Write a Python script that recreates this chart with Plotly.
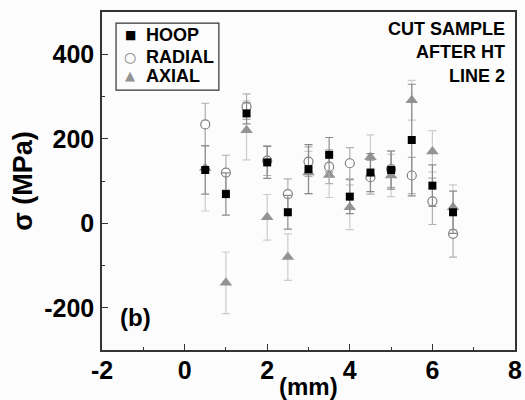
import plotly.graph_objects as go

x_mm = [0.5, 1, 1.5, 2, 2.5, 3, 3.5, 4, 4.5, 5, 5.5, 6, 6.5]
hoop = [126, 69, 260, 144, 26, 128, 162, 63, 120, 126, 197, 89, 26]
hoop_err = [57, 50, 25, 38, 40, 58, 41, 40, 45, 45, 132, 49, 50]
radial = [234, 120, 276, 148, 69, 146, 134, 142, 109, 128, 113, 52, -25]
radial_err = [50, 41, 30, 35, 36, 35, 40, 37, 40, 43, 43, 55, 55]
axial = [131, -141, 220, 14, -80, 120, 114, 38, 156, 113, 291, 170, 38]
axial_err = [102, 73, 70, 54, 55, 50, 53, 53, 53, 50, 47, 49, 53]
series_names = ["HOOP", "RADIAL", "AXIAL"]

FONT = "Liberation Sans, Arial, sans-serif"

fig = go.Figure()
fig.add_trace(go.Scatter(
    x=x_mm, y=axial, mode="markers", name="AXIAL",
    marker=dict(symbol="triangle-up", size=11, color="#939393"),
    error_y=dict(type="data", array=axial_err, color="#cccccc", thickness=1.2, width=4),
))
fig.add_trace(go.Scatter(
    x=x_mm, y=radial, mode="markers", name="RADIAL",
    marker=dict(symbol="circle", size=9, color="white", line=dict(color="#808080", width=1.2)),
    error_y=dict(type="data", array=radial_err, color="#b0b0b0", thickness=1.2, width=4),
))
fig.add_trace(go.Scatter(
    x=x_mm, y=hoop, mode="markers", name="HOOP",
    marker=dict(symbol="square", size=8, color="black"),
    error_y=dict(type="data", array=hoop_err, color="#8a8a8a", thickness=1.2, width=4),
))

axis_common = dict(
    showline=True, linecolor="#333333", linewidth=1.5, mirror=True,
    ticks="inside", ticklen=6, tickwidth=1.2, tickcolor="#333333",
    showgrid=False, zeroline=False, automargin=False,
    tickfont=dict(family=FONT, size=25, color="black", weight="bold"),
    minor=dict(ticks="inside", ticklen=3, tickwidth=1, tickcolor="#333333"),
)

fig.update_xaxes(
    range=[-2, 8], tickvals=[-2, 0, 2, 4, 6, 8], ticktext=["-2", "0", "2", "4", "6", "8"],
    minor_dtick=1, ticklabelstandoff=-3,
    **axis_common,
)
fig.update_yaxes(
    range=[-300, 500], tickvals=[-200, 0, 200, 400], ticktext=["-200", "0", "200", "400"],
    minor_dtick=100, ticklabelstandoff=1,
    title=dict(text="σ (MPa)", font=dict(family=FONT, size=27, color="black", weight="bold"), standoff=4),
    **axis_common,
)

fig.add_annotation(
    x=0.5, y=0, xref="paper", yref="paper", xanchor="center", yanchor="middle",
    yshift=-36, text="(mm)", showarrow=False,
    font=dict(family=FONT, size=24, color="black", weight="bold"),
)
fig.add_annotation(
    x=1.0, y=0.985, xref="paper", yref="paper", xanchor="right", yanchor="top",
    xshift=-8,
    text="CUT SAMPLE<br>AFTER HT<br>LINE 2", showarrow=False, align="right",
    font=dict(family=FONT, size=18, color="black", weight="bold"),
)
fig.add_annotation(
    x=-1.62, y=-222, xanchor="left", yanchor="middle",
    text="(b)", showarrow=False,
    font=dict(family=FONT, size=24, color="black", weight="bold"),
)

# Manual compact legend (box + symbols + labels)
fig.add_shape(type="rect", xref="paper", yref="paper",
              x0=0.034, x1=0.283, y0=0.769, y1=0.967,
              line=dict(color="#333333", width=1.2), fillcolor="rgba(0,0,0,0)")
legend_symbols = [("■", "black", 12), ("○", "#808080", 14), ("▲", "#939393", 13)]
row_y = [0.931, 0.868, 0.811]
for (sym, col, fs), name, ry in zip(legend_symbols, series_names, row_y):
    fig.add_annotation(x=0.068, y=ry, xref="paper", yref="paper", xanchor="center", yanchor="middle",
                       text=sym, showarrow=False,
                       font=dict(family="DejaVu Sans", size=fs, color=col))
    fig.add_annotation(x=0.101, y=ry, xref="paper", yref="paper", xanchor="left", yanchor="middle",
                       text=name, showarrow=False,
                       font=dict(family=FONT, size=18, color="black", weight="bold"))

fig.update_layout(
    width=525, height=400,
    margin=dict(l=102, r=10, t=12, b=50),
    paper_bgcolor="#fcfcfc", plot_bgcolor="#fcfcfc",
    showlegend=False,
)

fig.write_html("out.html", config={"displayModeBar": False},
               post_script="document.body.style.margin='0';document.body.style.padding='0';")
